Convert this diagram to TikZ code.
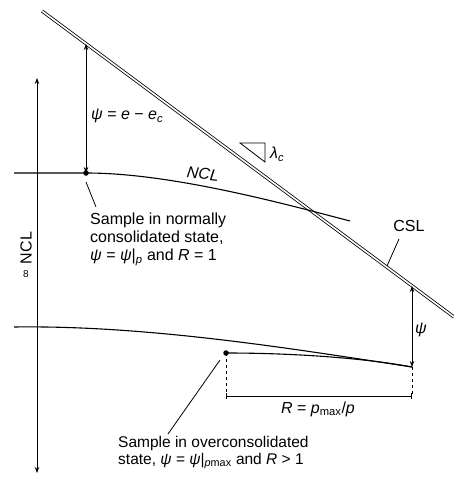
\documentclass[tikz,border=0pt]{standalone}
\usepackage{fontspec}
\setmainfont{Liberation Sans}
\usetikzlibrary{arrows.meta}
\tikzset{
  ln/.style={line width=1.1pt},
  dimarrow/.style={line width=0.8pt,{Stealth[length=6pt,width=4.5pt]}-{Stealth[length=6pt,width=4.5pt]}},
  lbl/.style={inner sep=0pt,font=\fontsize{16}{18}\selectfont},
  txtblock/.style={inner sep=0pt,align=left,anchor=north west,font=\fontsize{16}{18}\selectfont},
  dotp/.style={circle,fill=black,inner sep=0pt,minimum size=5.5pt},
  leader/.style={line width=0.8pt}
}
\begin{document}
\begin{tikzpicture}[x=1pt,y=-1pt]
\useasboundingbox[fill=white] (0,0) rectangle (454,482);
% CSL
\coordinate (cslA) at (42,11);
\coordinate (cslB) at (454,317);
\draw[line width=0.8pt,double,double distance=1.6pt] (cslA) -- (cslB);
% upper NCL
\coordinate (nclA) at (14,173);
\node[dotp] (nc) at (86,173) {};
\coordinate (nclX) at (308,210);
\coordinate (nclB) at (350,221);
\draw[ln] (nclA) -- (nc.center) .. controls (150,173) and (230,190) .. (nclX) -- (nclB);
\node[lbl,rotate=-7] (ncllbl) at (203,174) {\textit{NCL}};
% lower NCL
\coordinate (lnclA) at (14,327);
\coordinate (lnclB) at (412,367);
\draw[ln] (lnclA) .. controls (150,325) and (300,350) .. (lnclB);
% unloading line
\node[dotp] (oc) at (226,353) {};
\draw[ln] (oc.center) .. controls (300,353) and (370,359) .. (lnclB);
% left psi arrow
\coordinate (psiTop) at (86,44);
\draw[dimarrow] (psiTop) -- (nc.center);
\node[lbl,anchor=west] (psilbl) at (91,116) {\textit{ψ} = \textit{e} − \textit{e}\textsubscript{\textit{c}}};
% right psi arrow
\coordinate (psiTop2) at (412,286);
\draw[dimarrow] (psiTop2) -- (lnclB);
\node[lbl] (psilbl2) at (421,330) {\textit{ψ}};
% lambda triangle
\coordinate (t1) at (240,143);
\coordinate (t2) at (265,143);
\coordinate (t3) at (265,162);
\draw[line width=0.8pt] (t1) -- (t2) -- (t3) -- cycle;
\node[lbl,anchor=west] (lam) at (270,154) {\textit{λ}\textsubscript{\textit{c}}};
% CSL label
\node[lbl] (csllbl) at (409,226) {CSL};
\coordinate (cslpt) at (387,266);
\draw[leader] (399,239) -- (cslpt);
% left axis
\coordinate (axTop) at (37,78);
\coordinate (axBot) at (37,473);
\draw[dimarrow] (axTop) -- (axBot);
\node[lbl,rotate=90] (axlbl) at (26,248) {NCL};
\node[inner sep=0pt,font=\fontsize{10}{12}\selectfont] (ax8) at (26,274) {8};
% normally consolidated text
\node[txtblock] (nctxt) at (90,213) {Sample in normally\\consolidated state,\\\textit{ψ} = \textit{ψ}|\textsubscript{\textit{p}} and \textit{R} = 1};
\draw[leader] (86,182) -- (96,207);
% R dimension
\coordinate (d1) at (226,396);
\coordinate (d2) at (412,396);
\draw[line width=0.6pt,dash pattern=on 3pt off 3pt] (oc.center) -- (d1);
\draw[line width=0.6pt,dash pattern=on 3pt off 3pt] (lnclB) -- (d2);
\draw[line width=0.8pt,{Bar[width=6pt]}-{Bar[width=6pt]}] (d1) -- (d2);
\node[lbl] (rlbl) at (318,409) {\textit{R} = \textit{p}\textsubscript{max}/\textit{p}};
% overconsolidated text
\node[txtblock,font=\fontsize{15.5}{17}\selectfont] (octxt) at (118,436) {Sample in overconsolidated\\state, \textit{ψ} = \textit{ψ}|\textsubscript{\textit{p}max} and \textit{R} > 1};
\draw[leader] (220,360) -- (168,434);
\end{tikzpicture}
\end{document}
